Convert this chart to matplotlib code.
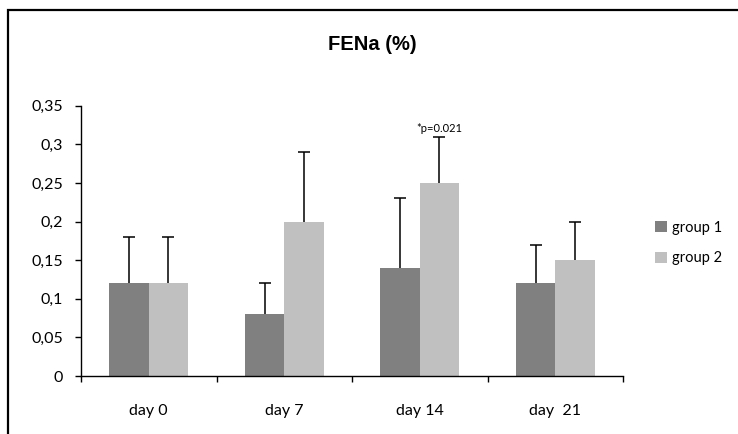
import matplotlib
matplotlib.use("Agg")
import matplotlib.pyplot as plt
from matplotlib.patches import Rectangle
import numpy as np

categories = ["day 0", "day 7", "day 14", "day  21"]
group1 = [0.12, 0.08, 0.14, 0.12]
group2 = [0.12, 0.20, 0.25, 0.15]
group1_err = [0.06, 0.04, 0.09, 0.05]
group2_err = [0.06, 0.09, 0.06, 0.05]
series_names = ["group 1", "group 2"]
yticks = [0, 0.05, 0.1, 0.15, 0.2, 0.25, 0.3, 0.35]
ytick_labels = ["0", "0,05", "0,1", "0,15", "0,2", "0,25", "0,3", "0,35"]
title = "FENa (%)"
annotation = "*p=0.021"

W, H = 738, 434
fig = plt.figure(figsize=(W / 100, H / 100), dpi=100)
ax = fig.add_axes([81 / W, 1 - 376 / H, (623 - 81) / W, (376 - 105.7) / H])

x = np.arange(len(categories))
bw = 0.29
c1, c2 = "#808080", "#c0c0c0"
ekw = dict(ecolor="black", elinewidth=1.1, capsize=4, capthick=1.1)
b1 = ax.bar(x - bw / 2, group1, bw, color=c1, label=series_names[0],
            yerr=[np.zeros(len(group1)), group1_err], error_kw=ekw, zorder=2)
b2 = ax.bar(x + bw / 2, group2, bw, color=c2, label=series_names[1],
            yerr=[np.zeros(len(group2)), group2_err], error_kw=ekw, zorder=2)
for b in (b1, b2):
    caps = b.errorbar.lines[1]
    caps[0].set_visible(False)  # hide lower caps (one-sided error bars)

ax.set_xlim(-0.5, len(categories) - 0.5)
ax.set_ylim(0, 0.35)
ax.set_yticks(yticks)
ax.set_yticklabels(ytick_labels)
ax.set_xticks(x)
ax.set_xticklabels(categories)
ax.set_xticks(np.arange(len(categories) + 1) - 0.5, minor=True)

for s in ["top", "right"]:
    ax.spines[s].set_visible(False)
for s in ["left", "bottom"]:
    ax.spines[s].set_color("black")
    ax.spines[s].set_linewidth(1.0)

tick_font = "Lato"
ax.tick_params(axis="y", direction="out", length=4, width=1, pad=9,
               labelsize=11.5, colors="black")
ax.tick_params(axis="x", which="major", length=0, pad=20, labelsize=11.5)
ax.tick_params(axis="x", which="minor", direction="out", length=4, width=1)
for lab in ax.get_xticklabels() + ax.get_yticklabels():
    lab.set_fontfamily(tick_font)

# annotation above day 14 group 2 error bar
ax.text(x[2] + bw / 2, group2[2] + group2_err[2] + 0.004, annotation,
        ha="center", va="bottom", fontsize=8, family=tick_font)

fig.text(372 / W, 1 - 45 / H, title, ha="center", va="center",
         fontsize=14.5, fontweight="bold", family="Liberation Sans")

leg = fig.legend(loc="center left", bbox_to_anchor=(655 / W, 1 - 243 / H),
                 frameon=False, handlelength=0.85, handleheight=0.85,
                 handletextpad=0.3, labelspacing=1.15, borderpad=0,
                 borderaxespad=0,
                 prop={"family": tick_font, "size": 10.5})

# outer chart border (extends beyond right/bottom edge)
fig.patches.append(Rectangle((8 / W, -0.1), 1.2, 1 - 10 / H + 0.1,
                             transform=fig.transFigure, fill=False,
                             edgecolor="black", linewidth=1.6))

fig.savefig("out.png", dpi=100)
